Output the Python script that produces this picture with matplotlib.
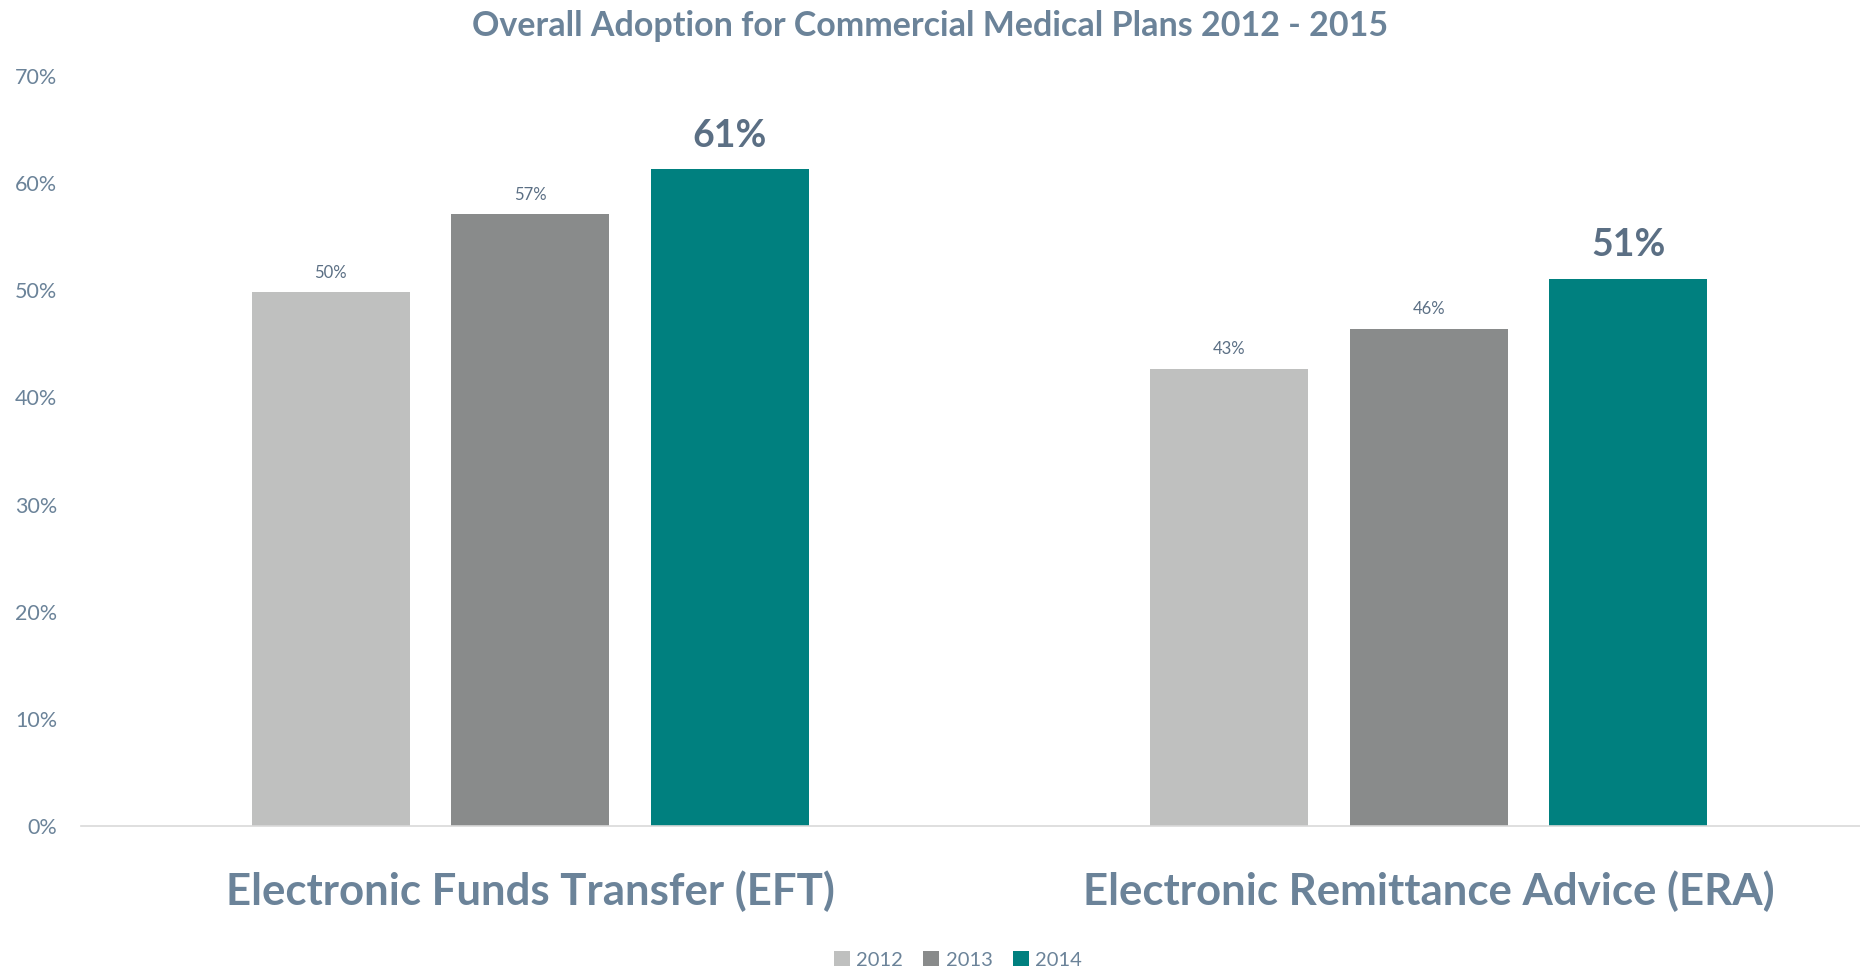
import numpy as np
import matplotlib.pyplot as plt

# --------------------------------------------------
# Data
# --------------------------------------------------
categories = ["Electronic Funds Transfer (EFT)", "Electronic Remittance Advice (ERA)"]
years = ["2012", "2013", "2014"]
adoption = {
    "2012": [49.8, 42.7],
    "2013": [57.1, 46.4],
    "2014": [61.3, 51.1],
}
bar_labels = {
    "2012": ["50%", "43%"],
    "2013": ["57%", "46%"],
    "2014": ["61%", "51%"],
}
y_ticks = [0, 10, 20, 30, 40, 50, 60, 70]

colors = {"2012": "#BFC0BF", "2013": "#898B8B", "2014": "#00807F"}
text_color = "#6B8399"
label_color = "#5B6F84"

plt.rcParams["font.family"] = ["Lato", "DejaVu Sans"]

# --------------------------------------------------
# Figure
# --------------------------------------------------
fig = plt.figure(figsize=(18.6, 9.66), dpi=100)
ax = fig.add_axes([0.0435, 0.1449, 0.9565, 0.7764])

x = np.arange(len(categories))
width = 0.176
step = 0.222

for i, yr in enumerate(years):
    pos = x + (i - 1) * step
    bars = ax.bar(pos, adoption[yr], width, color=colors[yr], label=yr, zorder=2)
    big = (yr == "2014")
    for rect, lab in zip(bars, bar_labels[yr]):
        ax.annotate(
            lab,
            (rect.get_x() + rect.get_width() / 2, rect.get_height()),
            xytext=(0, 12 if big else 14),
            textcoords="offset points",
            ha="center", va="bottom" if big else "center",
            fontsize=27 if big else 12,
            fontweight="bold" if big else "normal",
            color=label_color,
        )

ax.set_xlim(-0.5, 1.48)
ax.set_ylim(0, 70)
ax.set_yticks(y_ticks)
ax.set_yticklabels([f"{t}%" for t in y_ticks], fontsize=15.5, color=text_color)
ax.set_xticks(x)
ax.set_xticklabels(categories, fontsize=31.5, fontweight="bold", color=text_color)
ax.tick_params(axis="both", length=0)
ax.tick_params(axis="x", pad=32)
ax.tick_params(axis="y", pad=17)

for side in ["top", "right", "left"]:
    ax.spines[side].set_visible(False)
ax.spines["bottom"].set_color("#D9D9D9")
ax.spines["bottom"].set_linewidth(1.2)

fig.suptitle("Overall Adoption for Commercial Medical Plans 2012 - 2015",
             y=0.99, fontsize=24.5, fontweight="bold", color=text_color)

fig.legend(loc="lower center", bbox_to_anchor=(0.515, -0.022), ncol=3, frameon=False,
           fontsize=14.5, handlelength=0.8, handleheight=0.8, handletextpad=0.3,
           columnspacing=1.0, labelcolor=text_color)

fig.savefig("out.png", dpi=100)
